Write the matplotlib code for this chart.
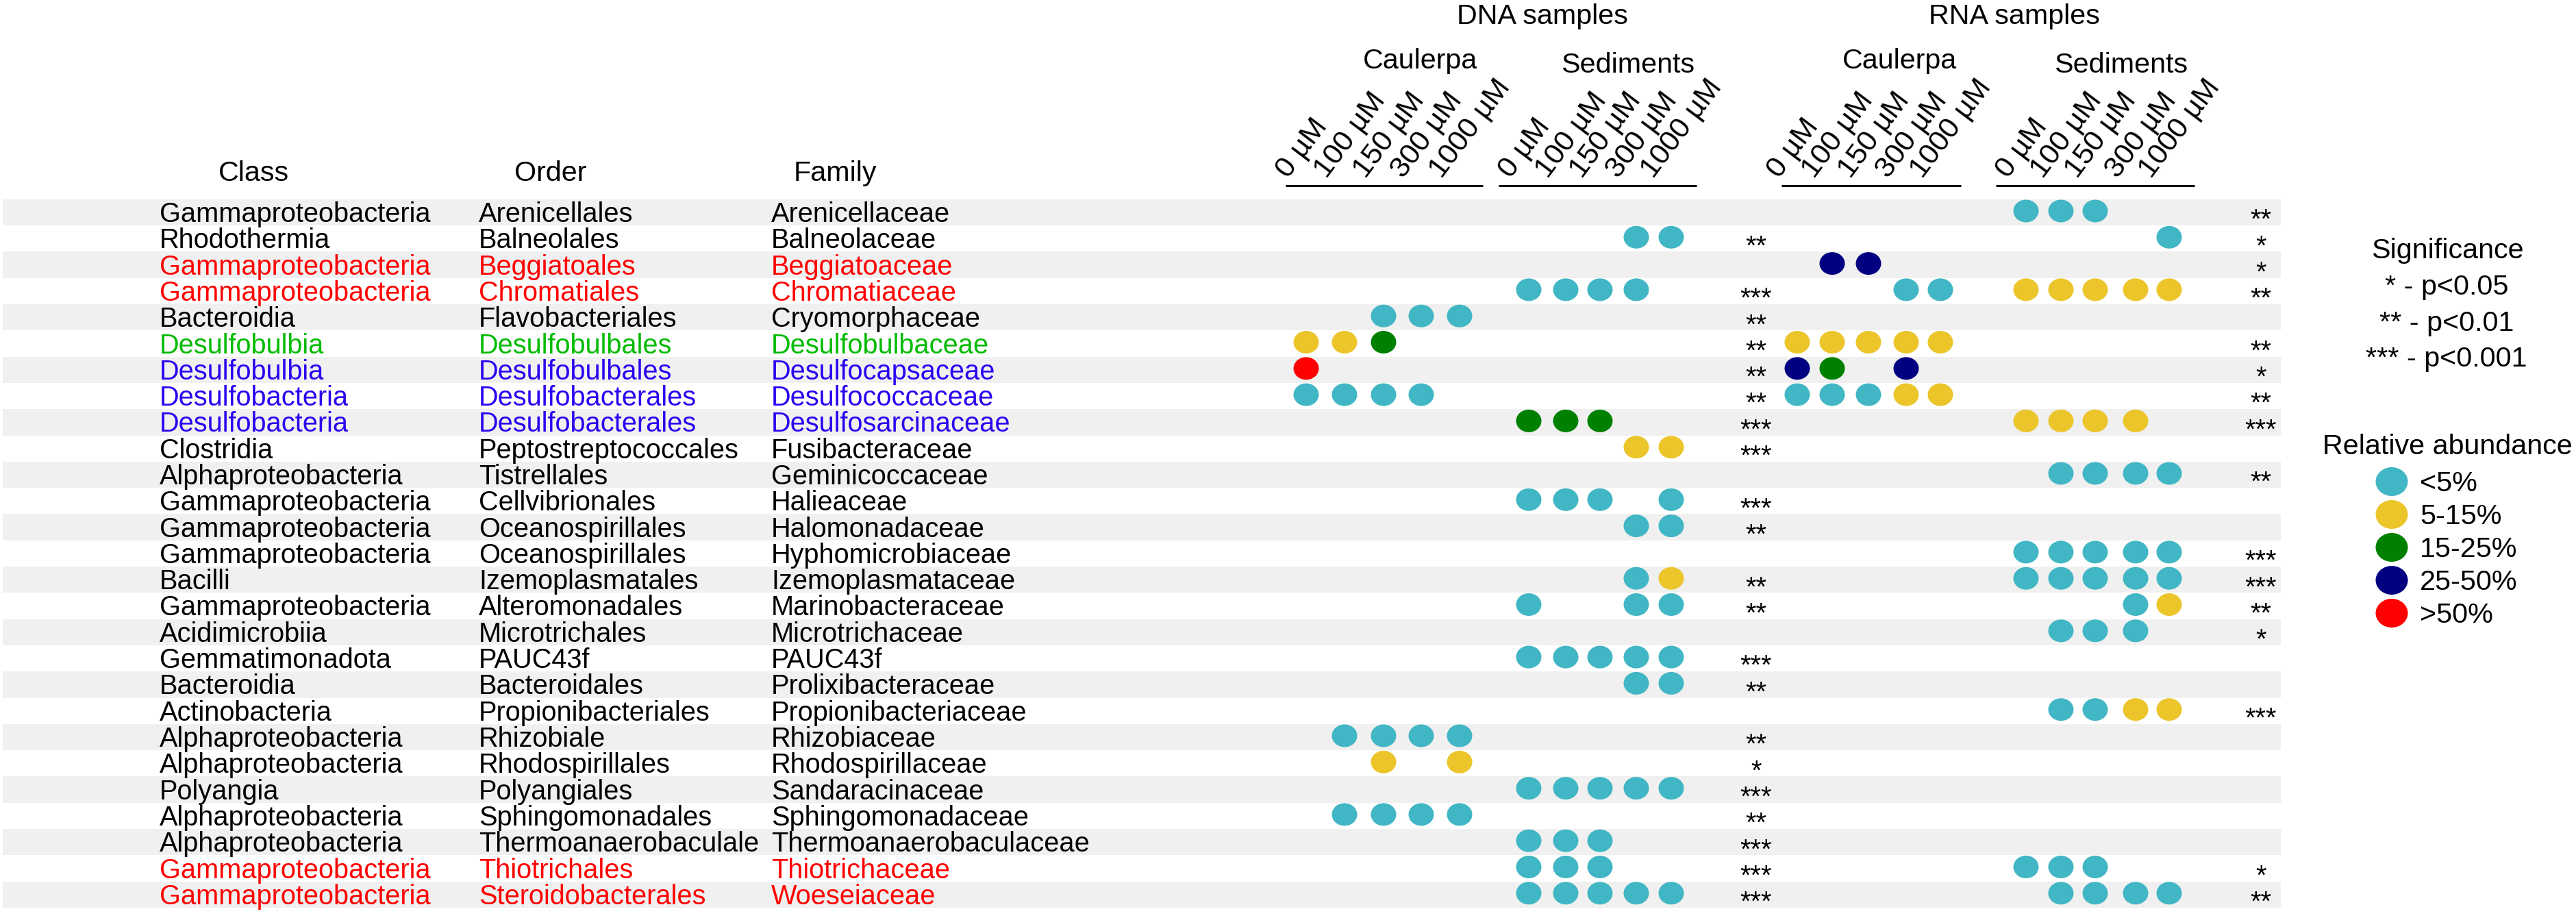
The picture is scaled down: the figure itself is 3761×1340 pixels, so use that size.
import matplotlib
matplotlib.use("Agg")
import matplotlib.pyplot as plt
from matplotlib.collections import EllipseCollection

plt.rcParams['font.family'] = ['Liberation Sans', 'DejaVu Sans']

# ---- data ----
class_names = ["Gammaproteobacteria", "Rhodothermia", "Gammaproteobacteria", "Gammaproteobacteria",
               "Bacteroidia", "Desulfobulbia", "Desulfobulbia", "Desulfobacteria", "Desulfobacteria",
               "Clostridia", "Alphaproteobacteria", "Gammaproteobacteria", "Gammaproteobacteria",
               "Gammaproteobacteria", "Bacilli", "Gammaproteobacteria", "Acidimicrobiia",
               "Gemmatimonadota", "Bacteroidia", "Actinobacteria", "Alphaproteobacteria",
               "Alphaproteobacteria", "Polyangia", "Alphaproteobacteria", "Alphaproteobacteria",
               "Gammaproteobacteria", "Gammaproteobacteria"]
order_names = ["Arenicellales", "Balneolales", "Beggiatoales", "Chromatiales", "Flavobacteriales",
               "Desulfobulbales", "Desulfobulbales", "Desulfobacterales", "Desulfobacterales",
               "Peptostreptococcales", "Tistrellales", "Cellvibrionales", "Oceanospirillales",
               "Oceanospirillales", "Izemoplasmatales", "Alteromonadales", "Microtrichales",
               "PAUC43f", "Bacteroidales", "Propionibacteriales", "Rhizobiale", "Rhodospirillales",
               "Polyangiales", "Sphingomonadales", "Thermoanaerobaculale", "Thiotrichales",
               "Steroidobacterales"]
family_names = ["Arenicellaceae", "Balneolaceae", "Beggiatoaceae", "Chromatiaceae", "Cryomorphaceae",
                "Desulfobulbaceae", "Desulfocapsaceae", "Desulfococcaceae", "Desulfosarcinaceae",
                "Fusibacteraceae", "Geminicoccaceae", "Halieaceae", "Halomonadaceae",
                "Hyphomicrobiaceae", "Izemoplasmataceae", "Marinobacteraceae", "Microtrichaceae",
                "PAUC43f", "Prolixibacteraceae", "Propionibacteriaceae", "Rhizobiaceae",
                "Rhodospirillaceae", "Sandaracinaceae", "Sphingomonadaceae",
                "Thermoanaerobaculaceae", "Thiotrichaceae", "Woeseiaceae"]
# 0 = black, 1 = red, 2 = green, 3 = blue
name_group = [0, 0, 1, 1, 0, 2, 3, 3, 3, 0, 0, 0, 0, 0, 0, 0, 0, 0, 0, 0, 0, 0, 0, 0, 0, 1, 1]

conc_labels = ["0 µM", "100 µM", "150 µM", "300 µM", "1000 µM"]
abund_labels = ["<5%", "5-15%", "15-25%", "25-50%", ">50%"]

# abundance class per sample: 0 absent, 1 <5%, 2 5-15%, 3 15-25%, 4 25-50%, 5 >50%
dna_caulerpa = ["00000", "00000", "00000", "00000", "00111", "22300", "50000", "11110", "00000",
                "00000", "00000", "00000", "00000", "00000", "00000", "00000", "00000", "00000",
                "00000", "00000", "01111", "00202", "00000", "01111", "00000", "00000", "00000"]
dna_sediments = ["00000", "00011", "00000", "11110", "00000", "00000", "00000", "00000", "33300",
                 "00022", "00000", "11101", "00011", "00000", "00012", "10011", "00000", "11111",
                 "00011", "00000", "00000", "00000", "11111", "00000", "11100", "11100", "11111"]
rna_caulerpa = ["00000", "00000", "04400", "00011", "00000", "22222", "43040", "11122", "00000",
                "00000", "00000", "00000", "00000", "00000", "00000", "00000", "00000", "00000",
                "00000", "00000", "00000", "00000", "00000", "00000", "00000", "00000", "00000"]
rna_sediments = ["11100", "00001", "00000", "22222", "00000", "00000", "00000", "00000", "22220",
                 "00000", "01111", "00000", "00000", "11111", "11111", "00012", "01110", "00000",
                 "00000", "01122", "00000", "00000", "00000", "00000", "00000", "11100", "01111"]
dna_sig = ["", "**", "", "***", "**", "**", "**", "**", "***", "***", "", "***", "**", "",
           "**", "**", "", "***", "**", "", "**", "*", "***", "**", "***", "***", "***"]
rna_sig = ["**", "*", "*", "**", "", "**", "*", "**", "***", "", "**", "", "", "***",
           "***", "**", "*", "", "", "***", "", "", "", "", "", "*", "**"]

# ---- layout ----
W, H = 3762, 1340
row_y0, row_h = 310, 38.3
col_x = [[1907, 1963, 2020, 2075, 2131], [2232, 2286, 2336, 2389, 2440],
         [2624, 2675, 2728, 2783, 2833], [2958, 3009, 3059, 3118, 3167]]
group_lines = [(1877, 2165), (2188, 2477), (2601, 2863), (2914, 3204)]
star_x = [2564, 3301]
abund_colors = {1: "#41B6C4", 2: "#EBC52A", 3: "#008000", 4: "#000080", 5: "#FF0000"}
name_colors = {0: "black", 1: "#FF0000", 2: "#00BB00", 3: "#2A00F0"}
fs = 28.6
fs_head = 29.7
fs_tick = 31

fig = plt.figure(figsize=(W / 100, H / 100), dpi=100)
ax = fig.add_axes([0, 0, 1, 1])
ax.set_xlim(0, W)
ax.set_ylim(H, 0)
ax.axis("off")

n = len(family_names)
rows_y = [row_y0 + i * row_h for i in range(n)]

# zebra stripes
ax.barh([rows_y[i] for i in range(0, n, 2)], 3326, height=row_h, left=4,
        color="#F0F0F0", zorder=0)

# taxonomy columns
for i in range(n):
    c = name_colors[name_group[i]]
    for x, s in zip([233, 699, 1126], [class_names[i], order_names[i], family_names[i]]):
        ax.text(x, rows_y[i] + 14, s, fontsize=fs, color=c, ha="left", va="baseline")

for x, s in zip([319, 751, 1159], ["Class", "Order", "Family"]):
    ax.text(x, 264, s, fontsize=fs_head, ha="left", va="baseline")

# dots
groups = [dna_caulerpa, dna_sediments, rna_caulerpa, rna_sediments]
offs, cols = [], []
for g, data in enumerate(groups):
    for i, s in enumerate(data):
        for j, v in enumerate(s):
            v = int(v)
            if v:
                offs.append((col_x[g][j], rows_y[i] - 2))
                cols.append(abund_colors[v])
ec = EllipseCollection(37, 33, 0, units="xy", offsets=offs, offset_transform=ax.transData,
                       facecolors=cols, edgecolors="none", zorder=3)
ax.add_collection(ec)

# significance stars
for x, sig in zip(star_x, [dna_sig, rna_sig]):
    for i, s in enumerate(sig):
        if s:
            ax.text(x, rows_y[i] + 23, s, fontsize=fs, ha="center", va="baseline")

# column headers
for g in range(4):
    for j, lab in enumerate(conc_labels):
        ax.text(col_x[g][j] - 26, 262, lab, fontsize=fs_tick, rotation=53,
                rotation_mode="anchor", ha="left", va="baseline")
    ax.plot(group_lines[g], [271, 271], color="black", lw=2.2, solid_capstyle="butt")

for s, x, y in [("Caulerpa", 2074, 100), ("Sediments", 2377, 106),
                ("Caulerpa", 2773, 100), ("Sediments", 3097, 106),
                ("DNA samples", 2252, 35), ("RNA samples", 2941, 35)]:
    ax.text(x, y, s, fontsize=fs_head, ha="center", va="baseline")

# legend
ax.text(3573, 377, "Significance", fontsize=fs_head, ha="center", va="baseline")
for s, y in zip(["* - p<0.05", "** - p<0.01", "*** - p<0.001"], [430, 483, 535]):
    ax.text(3572, y, s, fontsize=fs_head, ha="center", va="baseline")
ax.text(3573, 663, "Relative abundance", fontsize=fs_head, ha="center", va="baseline")
leg_y = [703 + 48 * k for k in range(len(abund_labels))]
ax.add_collection(EllipseCollection(47, 42, 0, units="xy",
                                    offsets=[(3492, y) for y in leg_y],
                                    offset_transform=ax.transData,
                                    facecolors=[abund_colors[k + 1] for k in range(5)],
                                    edgecolors="none"))
for lab, y in zip(abund_labels, leg_y):
    ax.text(3533, y + 14, lab, fontsize=fs_head, ha="left", va="baseline")

fig.savefig("out.png", dpi=100)
